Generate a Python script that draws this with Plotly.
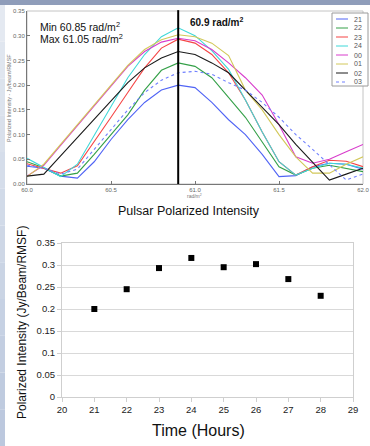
import plotly.graph_objects as go

W, H = 370, 446

# ---------------- data ----------------
rm_values = [60.0, 60.1, 60.2, 60.3, 60.4, 60.5, 60.6, 60.7, 60.8, 60.9, 61.0,
             61.1, 61.2, 61.3, 61.4, 61.5, 61.6, 61.7, 61.8, 61.9, 62.0]

series_names = ["21", "22", "23", "24", "00", "01", "02", "03"]
s21 = [0.036, 0.032, 0.016, 0.012, 0.045, 0.090, 0.130, 0.165, 0.190, 0.200, 0.195,
       0.165, 0.130, 0.100, 0.060, 0.015, 0.017, 0.035, 0.042, 0.040, 0.030]
s22 = [0.045, 0.033, 0.016, 0.022, 0.060, 0.100, 0.140, 0.190, 0.230, 0.245, 0.238,
       0.215, 0.175, 0.135, 0.085, 0.035, 0.018, 0.032, 0.038, 0.032, 0.025]
s23 = [0.041, 0.032, 0.022, 0.037, 0.085, 0.135, 0.185, 0.235, 0.275, 0.293, 0.285,
       0.262, 0.225, 0.170, 0.105, 0.045, 0.018, 0.035, 0.048, 0.046, 0.035]
s24 = [0.052, 0.034, 0.015, 0.040, 0.098, 0.157, 0.215, 0.262, 0.298, 0.316, 0.300,
       0.270, 0.232, 0.170, 0.105, 0.045, 0.018, 0.032, 0.042, 0.040, 0.032]
s00 = [0.016, 0.038, 0.078, 0.118, 0.160, 0.200, 0.238, 0.268, 0.287, 0.295, 0.290,
       0.272, 0.245, 0.215, 0.180, 0.120, 0.055, 0.042, 0.050, 0.065, 0.080]
s01 = [0.015, 0.040, 0.080, 0.120, 0.160, 0.200, 0.240, 0.272, 0.292, 0.302, 0.298,
       0.285, 0.260, 0.190, 0.150, 0.100, 0.055, 0.022, 0.022, 0.040, 0.055]
s02 = [0.016, 0.020, 0.057, 0.094, 0.131, 0.168, 0.205, 0.235, 0.255, 0.268, 0.262,
       0.245, 0.225, 0.190, 0.155, 0.120, 0.080, 0.045, 0.008, 0.020, 0.032]
s03 = [0.038, 0.032, 0.020, 0.030, 0.070, 0.110, 0.150, 0.185, 0.210, 0.225, 0.228,
       0.222, 0.205, 0.190, 0.165, 0.135, 0.100, 0.070, 0.040, 0.008, 0.020]
series_values = [s21, s22, s23, s24, s00, s01, s02, s03]
series_colors = ["#5064f5", "#34a048", "#f54545", "#3fd8d8",
                 "#d83ccc", "#d2c85a", "#1a1a1a", "#7080ff"]
series_dash = ["solid"] * 7 + ["dot"]

marker_rm = 60.9
top_xticks = [60.0, 60.5, 61.0, 61.5, 62.0]

hours = [21, 22, 23, 24, 25, 26, 27, 28]
intensity = [0.200, 0.245, 0.293, 0.316, 0.295, 0.302, 0.268, 0.230]

FONT = "Liberation Sans, Arial, Helvetica, sans-serif"


def px(x):
    return x / W


def py(y):
    return 1 - y / H


fig = go.Figure()

for name, vals, col, dash in zip(series_names, series_values, series_colors, series_dash):
    fig.add_trace(go.Scatter(
        x=rm_values, y=vals, mode="lines", name=name,
        line=dict(color=col, width=1.1, dash=dash),
        xaxis="x", yaxis="y", showlegend=False, hoverinfo="skip"))

fig.add_trace(go.Scatter(
    x=hours, y=intensity, mode="markers",
    marker=dict(symbol="square", size=6, color="black"),
    xaxis="x2", yaxis="y2", showlegend=False))

shapes = []
# slide background strips
shapes.append(dict(type="rect", xref="paper", yref="paper", x0=0, x1=1,
                   y0=py(5), y1=1, fillcolor="#8f9dba", line=dict(width=0)))
n = 12
for i in range(n):
    t = i / (n - 1)
    r = int(0xe4 + (0xbc - 0xe4) * t)
    g = int(0xe9 + (0xc8 - 0xe9) * t)
    b = int(0xf1 + (0xde - 0xf1) * t)
    y0 = 5 + (H - 5) * i / n
    y1 = 5 + (H - 5) * (i + 1) / n
    shapes.append(dict(type="rect", xref="paper", yref="paper", x0=0, x1=px(5),
                       y0=py(y1), y1=py(y0), fillcolor=f"rgb({r},{g},{b})",
                       line=dict(width=0)))
# top plot frame
shapes.append(dict(type="rect", xref="x domain", yref="y domain", x0=0, x1=1,
                   y0=0, y1=1, line=dict(color="#c4c4c4", width=1), layer="below"))
# vertical marker line
shapes.append(dict(type="line", xref="x", yref="y domain", x0=marker_rm, x1=marker_rm,
                   y0=0, y1=1.005, line=dict(color="black", width=2)))
# legend box
shapes.append(dict(type="rect", xref="paper", yref="paper", x0=px(332), x1=px(368),
                   y0=py(86), y1=py(13), fillcolor="white",
                   line=dict(color="#9a9a9a", width=1)))

annotations = []
for i, (name, col, dash) in enumerate(zip(series_names, series_colors, series_dash)):
    yy = 19 + 9 * i
    shapes.append(dict(type="line", xref="paper", yref="paper", x0=px(336), x1=px(348),
                       y0=py(yy), y1=py(yy), line=dict(color=col, width=1, dash=dash)))
    annotations.append(dict(text=name, xref="paper", yref="paper", x=px(364), y=py(yy),
                            xanchor="right", yanchor="middle", showarrow=False,
                            font=dict(family=FONT, size=7, color="#555")))

annotations += [
    dict(text="Min 60.85 rad/m<sup>2</sup>", xref="paper", yref="paper", x=px(38), y=py(27),
         xanchor="left", yanchor="middle", showarrow=False,
         font=dict(family=FONT, size=10.5, color="#111")),
    dict(text="Max 61.05 rad/m<sup>2</sup>", xref="paper", yref="paper", x=px(38), y=py(38),
         xanchor="left", yanchor="middle", showarrow=False,
         font=dict(family=FONT, size=10.5, color="#111")),
    dict(text="<b>60.9 rad/m<sup>2</sup></b>", xref="paper", yref="paper", x=px(188), y=py(22),
         xanchor="left", yanchor="middle", showarrow=False,
         font=dict(family=FONT, size=10, color="#111")),
    dict(text="Polarized Intensity - Jy/beam/RMSF", xref="paper", yref="paper",
         x=px(9), y=py(98), textangle=-90, xanchor="center", yanchor="middle",
         showarrow=False, font=dict(family=FONT, size=5.5, color="#777")),
    dict(text="rad/m<sup>2</sup>", xref="paper", yref="paper", x=px(194), y=py(196),
         xanchor="center", yanchor="middle", showarrow=False,
         font=dict(family=FONT, size=5, color="#777")),
    dict(text="Pulsar Polarized Intensity", xref="paper", yref="paper", x=px(189), y=py(211),
         xanchor="center", yanchor="middle", showarrow=False,
         font=dict(family=FONT, size=12.5, color="#111")),
    dict(text="Polarized Intensity (Jy/Beam/RMSF)", xref="paper", yref="paper",
         x=px(22), y=py(323), textangle=-90, xanchor="center", yanchor="middle",
         showarrow=False, font=dict(family=FONT, size=12, color="#111")),
    dict(text="Time (Hours)", xref="paper", yref="paper", x=px(198), y=py(430),
         xanchor="center", yanchor="middle", showarrow=False,
         font=dict(family=FONT, size=16, color="#111")),
]

fig.update_layout(
    width=W, height=H,
    margin=dict(l=0, r=0, t=0, b=0),
    paper_bgcolor="white", plot_bgcolor="rgba(0,0,0,0)",
    showlegend=False,
    shapes=shapes, annotations=annotations,
    xaxis=dict(domain=[px(27), px(363)], range=[60, 62], anchor="y",
               tickvals=top_xticks, tickformat=".1f",
               showline=True, linecolor="#777", linewidth=1,
               ticks="inside", ticklen=3, tickcolor="#777",
               showgrid=False, zeroline=False, automargin=False,
               tickfont=dict(family=FONT, size=6, color="#666")),
    yaxis=dict(domain=[py(184), py(11)], range=[0, 0.35], anchor="x",
               dtick=0.05, tickformat=".2f",
               showline=True, linecolor="#777", linewidth=1,
               ticks="inside", ticklen=3, tickcolor="#777",
               showgrid=False, zeroline=False, automargin=False,
               tickfont=dict(family=FONT, size=6, color="#666")),
    xaxis2=dict(domain=[px(62), px(353)], range=[20, 29], anchor="y2",
                dtick=1, showline=True, mirror=True, linecolor="#cfcfcf", linewidth=1,
                ticks="outside", ticklen=4, tickcolor="#cfcfcf",
                showgrid=False, zeroline=False, automargin=False,
                tickfont=dict(family=FONT, size=9.5, color="#222")),
    yaxis2=dict(domain=[py(397), py(243)], range=[0, 0.35], anchor="x2",
                dtick=0.05, showline=True, mirror=True, linecolor="#cfcfcf", linewidth=1,
                ticks="outside", ticklen=4, tickcolor="#cfcfcf",
                showgrid=True, gridcolor="#d9d9d9", gridwidth=1,
                zeroline=False, automargin=False,
                tickfont=dict(family=FONT, size=9.5, color="#222")),
)

fig.write_html("out.html")
